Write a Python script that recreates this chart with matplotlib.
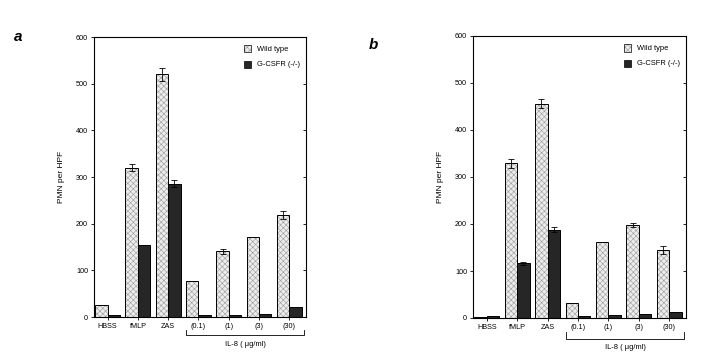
import numpy as np
import matplotlib
matplotlib.use('Agg')
import matplotlib.pyplot as plt

plt.rcParams['font.family'] = ['Liberation Sans', 'DejaVu Sans']
plt.rcParams['hatch.linewidth'] = 0.4

groups = ['HBSS', 'fMLP', 'ZAS', '(0.1)', '(1)', '(3)', '(30)']

# panel a
wt_a = [26, 320, 520, 78, 141, 172, 219]
wt_a_err = [0, 8, 14, 0, 5, 0, 9]
ko_a = [4, 155, 286, 4, 5, 6, 22]
ko_a_err = [0, 0, 7, 0, 0, 0, 0]

# panel b
wt_b = [2, 329, 456, 32, 162, 198, 145]
wt_b_err = [0, 9, 9, 0, 0, 4, 8]
ko_b = [4, 116, 188, 4, 6, 8, 13]
ko_b_err = [0, 4, 6, 0, 0, 0, 0]

fig = plt.figure(figsize=(7.14, 3.59), dpi=100)

WT_FACE = '#ececec'
WT_HATCH = '#9a9a9a'
KO_FACE = '#262626'


def panel(ax, wt, wt_err, ko, ko_err, br_y, br_top, txt_y):
    x = np.arange(len(groups))
    w = 0.41
    ax.bar(x - w/2, wt, w, color=WT_FACE, edgecolor=WT_HATCH, hatch='xxxxxx', linewidth=0)
    ax.bar(x - w/2, wt, w, color='none', edgecolor='black', linewidth=0.7)
    ax.bar(x + w/2, ko, w, color=KO_FACE, edgecolor='black', linewidth=0.7)
    for xi, v, e in zip(x - w/2, wt, wt_err):
        if e:
            ax.errorbar(xi, v, yerr=e, color='black', capsize=2.2, elinewidth=0.6, capthick=0.6)
    for xi, v, e in zip(x + w/2, ko, ko_err):
        if e:
            ax.errorbar(xi, v, yerr=e, color='black', capsize=2.2, elinewidth=0.6, capthick=0.6)
    ax.set_xlim(-0.45, 6.55)
    ax.set_ylim(0, 600)
    ax.set_yticks([0, 100, 200, 300, 400, 500, 600])
    ax.set_xticks(x)
    ax.set_xticklabels(groups)
    ax.tick_params(axis='both', labelsize=5.2, length=2.2, width=0.6, pad=2)
    for s in ax.spines.values():
        s.set_linewidth(0.7)
    ax.set_ylabel('PMN per HPF', fontsize=6, labelpad=8)

    # right-side ticks pointing inward
    axr = ax.twinx()
    axr.set_ylim(0, 600)
    axr.set_yticks([0, 100, 200, 300, 400, 500, 600])
    axr.tick_params(axis='y', direction='in', length=2.2, width=0.6, labelright=False)

    # legend boxes
    ax.bar(4.62, 15, 0.24, bottom=567, color=WT_FACE, edgecolor=WT_HATCH, hatch='xxxxxx', linewidth=0)
    ax.bar(4.62, 15, 0.24, bottom=567, color='none', edgecolor='black', linewidth=0.5)
    ax.bar(4.62, 15, 0.24, bottom=534, color=KO_FACE, edgecolor='black', linewidth=0.5)
    ax.text(4.93, 574, 'Wild type', fontsize=5.4, va='center')
    ax.text(4.93, 541, 'G-CSFR (-/-)', fontsize=5.4, va='center')

    # IL-8 bracket
    ax.plot([2.6, 2.6, 6.5, 6.5], [br_top, br_y, br_y, br_top], color='black',
            linewidth=0.6, transform=ax.get_xaxis_transform(), clip_on=False)
    ax.text(4.55, txt_y, 'IL-8 ( \u03bcg/ml)', fontsize=5.4, ha='center', va='center',
            transform=ax.get_xaxis_transform())


ax1 = fig.add_axes([94/714, 1 - 317/359, 212/714, 280/359])
panel(ax1, wt_a, wt_a_err, ko_a, ko_a_err, -0.065, -0.046, -0.098)

ax2 = fig.add_axes([473/714, 1 - 318/359, 213/714, 282/359])
panel(ax2, wt_b, wt_b_err, ko_b, ko_b_err, -0.075, -0.05, -0.103)

fig.text(18/714, 1 - 37/359, 'a', fontsize=11, fontweight='bold', style='italic',
         ha='center', va='center')
fig.text(373/714, 1 - 45/359, 'b', fontsize=11, fontweight='bold', style='italic',
         ha='center', va='center')

fig.savefig('out.png', dpi=100)
